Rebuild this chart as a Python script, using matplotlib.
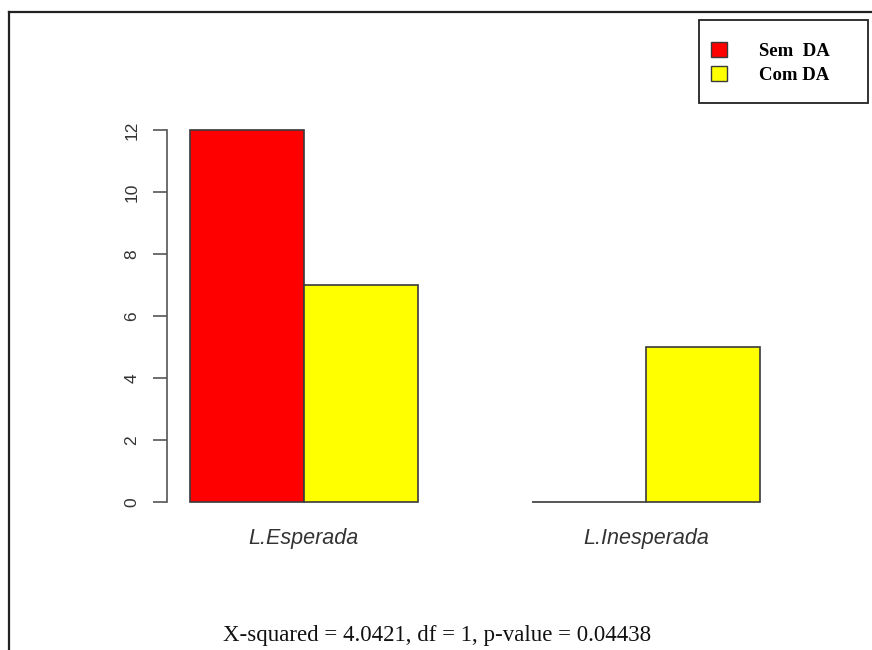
import matplotlib
matplotlib.use("Agg")
import matplotlib.pyplot as plt
from matplotlib.lines import Line2D
from matplotlib.patches import Patch, Rectangle

categories = ["L.Esperada", "L.Inesperada"]
series_names = ["Sem  DA", "Com DA"]
sem_da = [12, 0]
com_da = [7, 5]
yticks = [0, 2, 4, 6, 8, 10, 12]
stat_text = "X-squared = 4.0421, df = 1, p-value = 0.04438"

colors = ["#ff0000", "#ffff00"]
edge = "#3a3a3a"

W, H = 872, 650
fig = plt.figure(figsize=(W / 100, H / 100), dpi=100)
fig.patch.set_facecolor("white")

# axes in pixel terms: x data 0.8..6.2 -> px 167..783 ; y -0.48..12.48 -> px 517..115
ax = fig.add_axes([167 / W, (H - 517) / H, (783 - 167) / W, (517 - 115) / H])
ax.set_xlim(0.8, 6.2)
ax.set_ylim(-0.48, 12.48)

# R beside barplot positions: width 1, space c(0,1)
n = len(categories)
left_sem = [1 + 3 * i for i in range(n)]
left_com = [2 + 3 * i for i in range(n)]
ax.bar(left_sem, sem_da, width=1, align="edge", color=colors[0],
       edgecolor=edge, linewidth=1.2)
ax.bar(left_com, com_da, width=1, align="edge", color=colors[1],
       edgecolor=edge, linewidth=1.2)

for s in ["top", "right", "bottom"]:
    ax.spines[s].set_visible(False)
ax.spines["left"].set_bounds(yticks[0], yticks[-1])
ax.spines["left"].set_color("#555555")
ax.spines["left"].set_linewidth(1.2)
ax.set_yticks(yticks)
ax.set_yticklabels([str(v) for v in yticks], rotation=90, va="center",
                   fontsize=12.5, color="#333333", family="Liberation Sans")
ax.tick_params(axis="y", length=10, width=1.2, color="#555555", pad=10)

centers = [2 + 3 * i for i in range(n)]
ax.set_xticks(centers)
ax.set_xticklabels(categories, fontsize=15.5, style="italic",
                   family="Liberation Sans", color="#333333")
ax.tick_params(axis="x", length=0, pad=8)

# legend (frame drawn separately)
handles = [Patch(facecolor=colors[0], edgecolor=edge, label=series_names[0]),
           Patch(facecolor=colors[1], edgecolor=edge, label=series_names[1])]
leg = fig.legend(handles=handles, loc="upper left",
                 bbox_to_anchor=(711 / W, 1 - 42 / H),
                 prop={"family": "Liberation Serif", "weight": "bold", "size": 13.5},
                 frameon=False, handlelength=0.85, handleheight=0.85,
                 handletextpad=1.7, borderpad=0, labelspacing=0.3,
                 borderaxespad=0)
fig.add_artist(Rectangle((699 / W, 1 - 103 / H), (868 - 699) / W, (103 - 20) / H,
                         transform=fig.transFigure, facecolor="none",
                         edgecolor="#222222", linewidth=1.3))

# bottom statistic
fig.text(437 / W, 1 - 635 / H, stat_text, ha="center", va="center",
         fontsize=16.5, family="Liberation Serif", color="#111111")

# outer frame (left and top)
fig.add_artist(Line2D([9 / W, 9 / W], [0, 1 - 12 / H], transform=fig.transFigure,
                      color="#222222", linewidth=1.6))
fig.add_artist(Line2D([9 / W, 1], [1 - 12 / H, 1 - 12 / H], transform=fig.transFigure,
                      color="#222222", linewidth=1.6))

fig.savefig("out.png", dpi=100)
